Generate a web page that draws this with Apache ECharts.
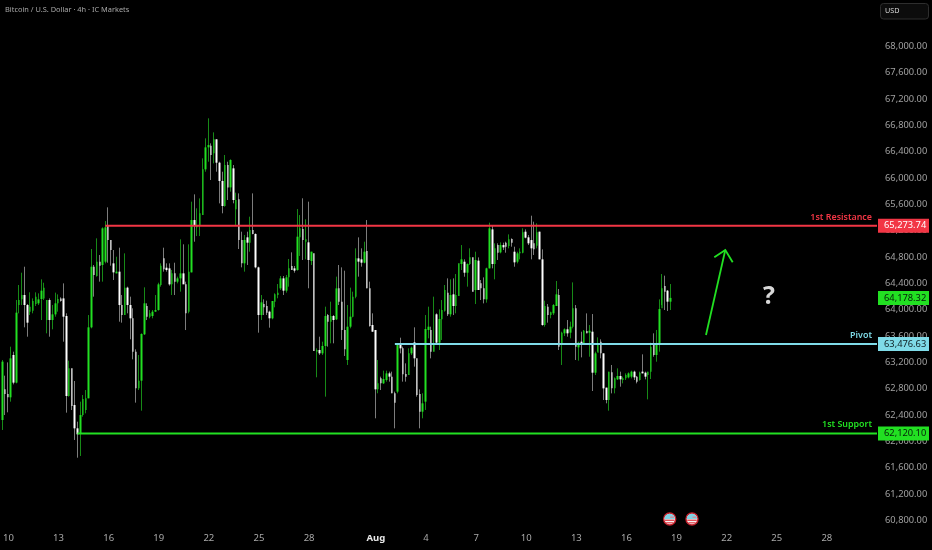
<!DOCTYPE html>
<html><head><meta charset="utf-8">
<style>html,body{margin:0;padding:0;background:#000}#c{width:932px;height:550px}</style>
<script src="https://cdn.jsdelivr.net/npm/echarts@6/dist/echarts.min.js"></script>
</head><body><div id="c"></div>
<script>
const opens=[62323,62789,62718,62668,63311,62891,64070,64156,64222,64070,
63969,63984,64085,64096,64161,64171,63842,64146,63842,63928,
64096,64171,64171,63903,62688,63108,62551,62197,62121,62399,
62475,62653,63731,64652,64511,64728,64678,64728,65270,65058,
64703,64551,64577,64070,63918,64334,64070,63868,63361,62805,
62921,63625,64055,63893,63903,63969,63994,64374,64779,64637,
64627,64384,64551,64425,64475,64551,64384,63969,64566,65361,
65250,65270,65437,66131,66465,66490,66374,66587,66232,65954,
65574,66197,65857,66146,65523,65675,65058,64703,65098,65017,
65210,65149,64642,63918,64086,64055,63969,63868,64121,64222,
64323,64475,64288,64491,64663,64627,64602,65098,65225,65032,
65022,64739,64855,63362,63387,63336,63448,63918,63817,63903,
63853,64323,64121,63691,63235,63741,63893,64197,64779,64764,
64713,64891,64323,63767,63691,62789,62956,62881,62931,63032,
62982,62729,62754,63463,63412,63022,63007,63336,63503,63260,
62719,62450,62602,63691,63691,63362,63929,63498,63853,63984,
64258,63929,64232,64055,64207,64693,64728,64561,64693,64794,
64298,64744,64399,64323,64156,64627,65219,64693,64981,64870,
64981,65017,64966,65073,64880,64728,64855,64865,65184,65098,
65057,65007,64971,65184,64764,63766,64045,63918,63944,64055,
64222,63478,63640,63701,63650,63741,64020,63427,63513,63488,
63675,63650,63665,63042,63346,63513,63336,62815,62627,63047,
62804,62941,62992,62931,62956,62971,62982,63058,62982,62931,
63058,63042,63007,63058,63463,63311,63463,64020,64359,64288,
64121];
const closes=[63210,62718,62668,63260,62891,63954,64146,64222,64070,63802,
64045,64131,64197,64156,64288,64334,64146,63842,63928,64096,
64161,64131,63893,62688,63108,62536,62197,62106,62399,62642,
62653,63731,64652,64526,64728,64668,65235,65250,65058,64906,
64566,64577,64070,63918,64334,64070,63868,63361,62805,62921,
63630,64096,63893,63944,63969,63994,64384,64668,64612,64602,
64384,64551,64425,64475,64551,64384,63944,64577,65361,65285,
65285,65463,66131,66465,66500,66349,66587,66232,65954,65574,
66197,65857,66273,65665,65665,65058,64703,65058,65017,65210,
65149,64642,63918,64111,64035,63954,63868,64131,64232,64258,
64475,64288,64491,64627,64602,64592,65108,65235,65058,65068,
64754,64880,63372,63387,63336,63448,63903,63817,63903,63842,
64323,64121,63691,63397,63741,63893,64197,64779,64729,64713,
64880,64323,63751,63665,62789,62881,62881,62946,63032,62982,
62729,62587,63473,63412,63017,62982,63336,63422,63260,62703,
62450,62577,63706,63741,63362,63488,63498,63858,63994,64298,
63929,64222,64055,64222,64703,64764,64561,64693,64794,64273,
64754,64298,64323,64156,64627,65235,64693,64931,64865,64981,
64946,64956,65068,65017,64718,64855,64880,65174,65093,65007,
64931,64916,65174,64764,63766,64055,63918,63959,64070,64232,
63437,63650,63701,63640,63741,64020,63437,63498,63488,63680,
63640,63680,63042,63336,63488,63336,62804,62627,63058,62804,
62956,62992,62941,62956,63007,63032,63058,62971,62906,63042,
63032,62982,63058,63437,63311,63463,64009,64323,64273,64121,
64178.32];
const lows=[62172,62399,62440,62602,62865,62880,63944,64070,63731,63589,
63918,63944,64055,64070,63842,64146,63640,63589,63701,63893,
63969,64121,63513,62435,62678,62475,62020,61751,61777,62374,
62425,62653,63716,64197,64501,64425,64425,64703,64713,64668,
64450,64551,63817,63802,63918,63944,63549,63245,62587,62779,
62465,63615,63842,63868,63868,63969,63984,64349,64577,64577,
64364,64222,64222,64399,64273,64399,63690,63944,64566,65032,
65118,65118,65437,66095,66247,65969,66222,66095,65614,65463,
65564,65665,65792,65615,65285,64921,64642,64577,64678,64880,
65144,64627,63650,63843,63918,63918,63726,63853,64035,64172,
64298,64222,64258,64349,64602,64561,64592,64815,64754,64764,
64324,64678,63372,62972,63311,63311,62678,63438,63488,63488,
63842,64070,63539,63296,63159,63716,63883,64172,64501,64653,
64703,64323,63741,63665,62349,62729,62779,62870,62906,62906,
62729,62197,62729,63336,62906,62906,63007,63311,63134,62678,
62197,62349,62476,63564,63260,63362,63488,63387,63539,63969,
63903,63893,63918,63944,64207,64602,64500,64349,64678,64273,
64085,64298,64146,64095,64106,64627,64627,64460,64754,64855,
64906,64865,64931,64956,64652,64703,64764,64855,65083,64981,
64764,64830,64931,64764,63756,63741,63802,63868,63918,64055,
63387,63159,63599,63589,63564,63716,63235,63225,63275,63478,
63640,63285,62764,63007,63361,63260,62627,62577,62465,62728,
62728,62931,62830,62880,62931,62956,62956,62931,62880,62921,
63032,62941,62637,62946,63285,63209,63361,64070,63994,63979,
63994];
const highs=[63235,62997,63199,63437,63361,64146,64374,64561,64652,64085,
64263,64171,64263,64247,64460,64409,64146,64171,64070,64258,
64232,64187,64399,63944,63225,63108,62916,62298,62602,62703,
62779,63918,64921,64678,65083,64830,65250,65346,65554,65058,
64906,64804,64941,64222,64855,64349,64197,64020,63397,63311,
63640,64339,64096,63994,63994,64222,64409,64703,64941,64703,
64703,64602,64713,64501,65068,64992,64425,64992,65640,65751,
65539,65690,66298,66602,66906,66526,66693,66587,66247,66095,
66349,66247,66283,66197,65777,65766,65184,65134,65184,65412,
65766,65159,64653,64222,64156,64136,63984,64131,64248,64389,
64511,64511,64526,64769,64870,64663,65528,65437,65691,65372,
65640,64880,64855,63412,63589,63513,64045,63934,64121,63918,
64501,64678,64642,64592,64070,64334,64273,64931,65098,64931,
65032,65361,64425,63944,63691,63235,62982,63073,63073,63058,
63058,62754,63473,63574,63438,63184,63412,63438,63731,63260,
62789,62729,63918,64045,63741,64197,63944,64005,64146,64374,
64475,64460,64475,64541,64703,64981,64764,64703,64931,64794,
64880,64794,64450,64490,64637,65321,65285,65007,65007,65022,
65017,65032,65143,65083,64956,64880,64931,65235,65219,65133,
65427,65336,65311,65184,64916,64136,64085,63969,64085,64435,
64313,63665,63716,63842,63817,64414,64070,63513,63665,63691,
63943,63766,63933,63361,63579,63549,63336,62815,63058,63159,
62971,63108,63058,62982,63032,63047,63073,63073,62992,63058,
63321,63058,63058,63498,63640,63691,64156,64541,64516,64298,
64389];

const slotCount=316;
const tickIndexes=[2,20,38,56,74,92,110,134,152,170,188,206,224,242,260,278,296];
const tickLabels=['10','13','16','19','22','25','28','Aug','4','7','10','13','16','19','22','25','28'];
const levelNames=['1st Resistance','Pivot','1st Support'];
const levelPrices=[65273.74,63476.63,62120.10];
const levelStarts=[37,141,27];
const levelColors=['#f23645','#7fdbe8','#22e022'];
const levelTextColors=['#ffffff','#102024','#06200a'];
const lastPrice=64178.32;
const title='Bitcoin / U.S. Dollar · 4h · IC Markets';

const categories=[];
for(let i=0;i<slotCount;i++)categories.push('c'+i);
const money=v=>v.toLocaleString('en-US',{minimumFractionDigits:2,maximumFractionDigits:2});
const ohlc=opens.map((o,i)=>[o,closes[i],lows[i],highs[i]]);
const bodies=opens.map((o,i)=>[o,closes[i],Math.min(o,closes[i]),Math.max(o,closes[i])]);
const axisFont='"Noto Sans"';

const chart=echarts.init(document.getElementById('c'),null,{renderer:'canvas'});

function levelItem(params,api){
  const i=api.value(0),v=api.value(1),c=levelColors[i];
  const start=api.coord([levelStarts[i],v]),y=start[1];
  return {type:'group',children:[
    {type:'line',shape:{x1:start[0],y1:y,x2:877,y2:y},style:{stroke:c,lineWidth:2}},
    {type:'rect',shape:{x:878,y:y-7,width:51,height:14},style:{fill:c}},
    {type:'text',style:{x:884,y:y,text:money(v),fill:levelTextColors[i],font:'9.3px '+axisFont,verticalAlign:'middle'}},
    {type:'text',style:{x:872,y:y-8.6,text:levelNames[i],fill:c,font:'600 8.9px "Noto Sans"',align:'right',verticalAlign:'middle'}}
  ]};
}
function lastItem(params,api){
  const v=api.value(0),y=api.coord([0,v])[1];
  return {type:'group',children:[
    {type:'rect',shape:{x:878,y:y-7,width:51,height:14},style:{fill:'#22e022'}},
    {type:'text',style:{x:884,y:y,text:money(v),fill:'#06200a',font:'9.3px '+axisFont,verticalAlign:'middle'}}
  ]};
}
function flag(cx,cy){
  return {type:'group',x:cx,y:cy,children:[
    {type:'circle',shape:{r:6},style:{fill:'#f4f4f4',stroke:'#c4202c',lineWidth:1.4}},
    {type:'sector',shape:{r:5.3,startAngle:Math.PI,endAngle:2*Math.PI},style:{fill:'#7fd3e4'}},
    {type:'rect',shape:{x:-4.8,y:0.6,width:9.6,height:1.3},style:{fill:'#e0404a'}},
    {type:'rect',shape:{x:-3.6,y:3.2,width:7.2,height:1.2},style:{fill:'#e0404a'}},
    {type:'rect',shape:{x:0.5,y:-2.4,width:3.8,height:1.2},style:{fill:'#e0808a'}}
  ]};
}

chart.setOption({
  backgroundColor:'#000',
  animation:false,
  grid:{left:-1,top:46.3,width:881.64,height:474},
  xAxis:{type:'category',data:categories,boundaryGap:true,
    axisLine:{show:false},axisTick:{show:false},splitLine:{show:false},
    axisLabel:{interval:i=>tickIndexes.includes(i),margin:13,color:'#a8a8a8',fontFamily:'Noto Sans',fontSize:9.5,padding:[0,0,0,1],hideOverlap:false,
      formatter:(v,i)=>{const t=tickLabels[tickIndexes.indexOf(i)];return t==='Aug'?'{b|Aug}':t;},
      rich:{b:{color:'#e8e8e8',fontFamily:'Noto Sans',fontSize:9.5,fontWeight:'bold'}}}},
  yAxis:{type:'value',position:'right',min:60800,max:68000,interval:400,scale:true,
    axisLine:{show:false},axisTick:{show:false},splitLine:{show:false},
    axisLabel:{margin:4.4,color:'#a0a0a0',fontFamily:'Noto Sans',fontSize:9.3,padding:[0,0,2,0],formatter:v=>money(v)}},
  series:[
    {name:'wicks',type:'candlestick',data:ohlc,barWidth:1,clip:false,z:2,
      itemStyle:{color:'#178a17',borderColor:'#178a17',color0:'#7c7c7c',borderColor0:'#7c7c7c',borderWidth:1}},
    {name:'bodies',type:'candlestick',data:bodies,barWidth:2,clip:false,z:3,
      itemStyle:{color:'#22e022',borderColor:'#22e022',color0:'#ffffff',borderColor0:'#ffffff',borderWidth:0}},
    {name:'levels',type:'custom',renderItem:levelItem,clip:false,z:10,data:levelPrices.map((p,i)=>[i,p]),encode:{x:-1,y:1},silent:true},
    {name:'last',type:'custom',renderItem:lastItem,clip:false,z:10,data:[[lastPrice]],encode:{x:-1,y:0},silent:true}
  ],
  graphic:[
    {type:'text',left:5,top:6,z:20,style:{text:title,fill:'#a8a8a8',font:'7.4px "Noto Sans"'}},
    {type:'rect',z:20,shape:{x:880.5,y:3.5,width:48,height:15.5,r:3},style:{fill:'#0c0c0c',stroke:'#2e2e2e',lineWidth:1}},
    {type:'text',z:21,left:885,top:7,style:{text:'USD',fill:'#d8d8d8',font:'7.2px "Noto Sans"'}},
    {type:'polyline',z:20,shape:{points:[[706,335],[725.3,250]]},style:{stroke:'#22e022',lineWidth:1.8,fill:null}},
    {type:'polyline',z:20,shape:{points:[[714.3,257.3],[725.3,250],[732.7,262.3]]},style:{stroke:'#22e022',lineWidth:1.8,fill:null}},
    {type:'text',z:20,left:763,top:284,style:{text:'?',fill:'#d8d8d8',font:'bold 25px "Open Sans"'}},
    flag(669.7,519),flag(692,519)
  ]
});
</script></body></html>
